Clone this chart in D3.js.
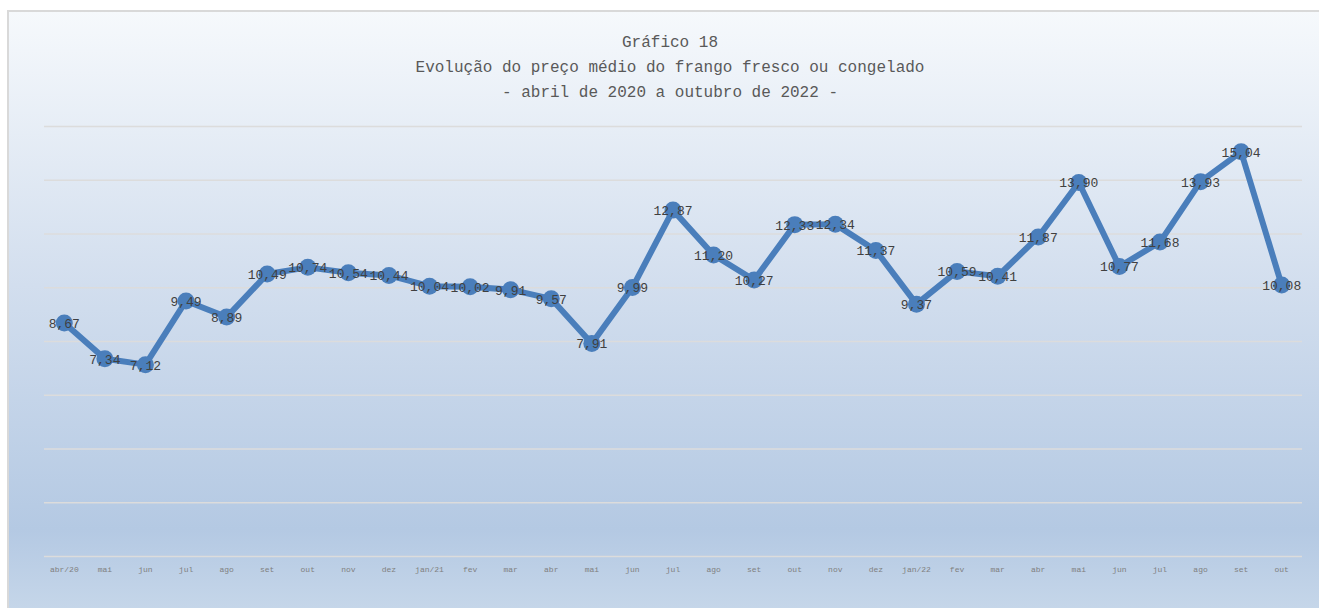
<!DOCTYPE html>
<meta charset="utf-8">
<head>
  <title>Gráfico 18</title>
  <style>
  body { margin: 0; background: #fff; }
  text { font-family: "Courier New", Cousine, "Liberation Mono", "Liberation Serif", serif; }
  </style>
</head>
<html>
  <body>
    <svg width="1319" height="608"></svg>
  </body>
</html>
<script src="https://d3js.org/d3.v7.min.js"></script>
<script>
var months = ["abr/20","mai","jun","jul","ago","set","out","nov","dez",
              "jan/21","fev","mar","abr","mai","jun","jul","ago","set","out","nov","dez",
              "jan/22","fev","mar","abr","mai","jun","jul","ago","set","out"];
var prices = [8.67, 7.34, 7.12, 9.49, 8.89, 10.49, 10.74, 10.54, 10.44,
              10.04, 10.02, 9.91, 9.57, 7.91, 9.99, 12.87, 11.20, 10.27, 12.33, 12.34, 11.37,
              9.37, 10.59, 10.41, 11.87, 13.90, 10.77, 11.68, 13.93, 15.04, 10.08];
var yTicks = [0, 2, 4, 6, 8, 10, 12, 14, 16];
var titleLines = ["Gráfico 18",
                  "Evolução do preço médio do frango fresco ou congelado",
                  "- abril de 2020 a outubro de 2022 -"];

var data = months.map(function(m, i) { return {key: i, label: m, value: prices[i]}; });

var svg = d3.select("svg"),
    margin = {top: 126, right: 17, bottom: 52, left: 44},
    width = +svg.attr("width") - margin.left - margin.right,
    height = +svg.attr("height") - margin.top - margin.bottom;

// background gradient
var grad = svg.append("defs").append("linearGradient")
    .attr("id", "bg").attr("x1", 0).attr("y1", 0).attr("x2", 0).attr("y2", 1);
grad.append("stop").attr("offset", "0%").attr("stop-color", "#f6f9fc");
grad.append("stop").attr("offset", "45%").attr("stop-color", "#d2deee");
grad.append("stop").attr("offset", "85%").attr("stop-color", "#b4c9e3");
grad.append("stop").attr("offset", "100%").attr("stop-color", "#c8d8ea");

svg.append("rect")
    .attr("x", 8).attr("y", 11)
    .attr("width", 1330).attr("height", 610)
    .attr("fill", "url(#bg)")
    .attr("stroke", "#d9d9d9")
    .attr("stroke-width", 2);

// title
svg.append("g").selectAll("text")
  .data(titleLines)
  .enter().append("text")
    .attr("x", 670)
    .attr("y", function(d, i) { return 47 + i * 25; })
    .attr("text-anchor", "middle")
    .attr("fill", "#595959")
    .style("font-size", "16px")
    .text(function(d) { return d; });

var g = svg.append("g").attr("transform", "translate(" + margin.left + "," + margin.top + ")");

var x = d3.scaleBand()
    .domain(data.map(function(d) { return d.key; }))
    .range([0, width]);

var y = d3.scaleLinear()
    .domain([0, 16])
    .range([height, 0]);

// gridlines
g.append("g")
    .call(d3.axisLeft(y).tickValues(yTicks).tickSize(-width).tickFormat(""))
    .call(function(s) { s.select(".domain").remove(); })
    .selectAll("line")
      .attr("stroke", "#dcdcdc")
      .attr("stroke-width", 1.5);

// x axis labels
g.append("g")
    .attr("transform", "translate(0," + height + ")")
    .call(d3.axisBottom(x).tickSize(0).tickPadding(10)
      .tickFormat(function(k) { return months[k]; }))
    .call(function(s) { s.select(".domain").remove(); })
    .selectAll("text")
      .attr("fill", "#7f7f7f")
      .style("font-size", "8px")
      .style("font-family", "'Courier New', Cousine, 'Liberation Mono', 'Liberation Serif', serif");

var cx = function(d) { return x(d.key) + x.bandwidth() / 2; };

var line = d3.line()
    .x(cx)
    .y(function(d) { return y(d.value); });

g.append("path")
    .datum(data)
    .attr("fill", "none")
    .attr("stroke", "#4a7ebb")
    .attr("stroke-width", 6)
    .attr("stroke-linejoin", "round")
    .attr("d", line);

g.append("g").selectAll("circle")
  .data(data)
  .enter().append("circle")
    .attr("cx", cx)
    .attr("cy", function(d) { return y(d.value); })
    .attr("r", 8.5)
    .attr("fill", "#4a7ebb");

g.append("g").selectAll("text")
  .data(data)
  .enter().append("text")
    .attr("x", cx)
    .attr("y", function(d) { return y(d.value); })
    .attr("dy", "0.38em")
    .attr("text-anchor", "middle")
    .attr("fill", "#404040")
    .style("font-size", "13px")
    .text(function(d) { return d.value.toFixed(2).replace(".", ","); });
</script>
